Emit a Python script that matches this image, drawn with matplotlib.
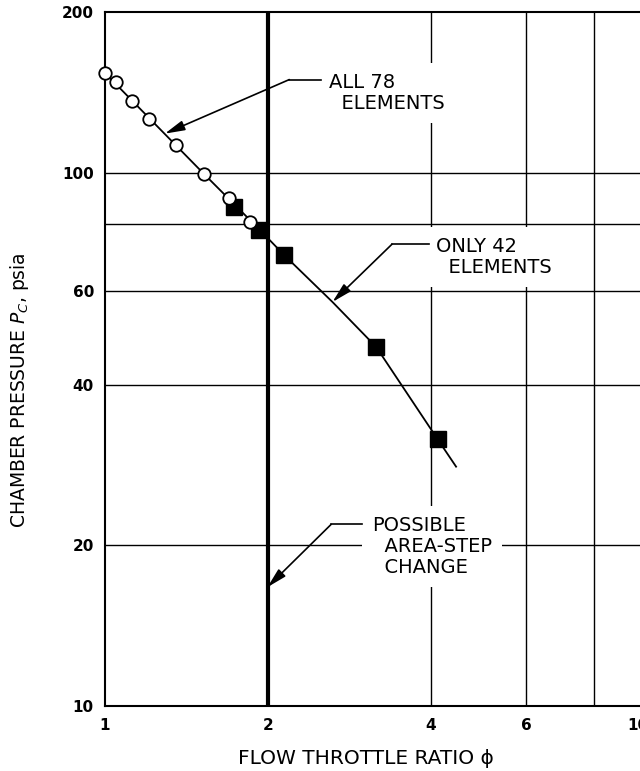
import matplotlib.pyplot as plt
import matplotlib.transforms as mtransforms
from matplotlib.patches import ArrowStyle


# open circles : all 78 elements flowing
all78_phi = [1.00, 1.046, 1.12, 1.206, 1.351, 1.521, 1.692, 1.855]
all78_pc = [153.7, 147.6, 136.0, 126.2, 112.5, 99.6, 89.6, 80.8]

# filled squares : only 42 elements flowing
only42_phi = [1.735, 1.93, 2.145, 3.172, 4.122]
only42_pc = [86.2, 78.2, 70.0, 47.1, 31.6]

# faired curve through the data
curve_phi = [1.00, 1.521, 1.93, 2.145, 2.633, 3.172, 4.122, 4.456]
curve_pc = [153.7, 99.6, 78.2, 70.0, 57.2, 47.1, 31.6, 28.1]

# axes ticks / grid
x_ticks = [1, 2, 4, 6, 10]
x_tick_labels = ['1', '2', '4', '6', '10']
y_ticks = [10, 20, 40, 60, 100, 200]
y_tick_labels = ['10', '20', '40', '60', '100', '200']
grid_x = [4, 6, 8]
grid_y = [20, 40, 60, 80, 100]
step_phi = 2


def leader(ax, text_xy, text, elbow, bend_end, tip):
    # text block with a white backing that breaks the grid lines
    ax.text(text_xy[0], text_xy[1], text, ha='left', va='center', fontsize=14,
            linespacing=1.15, zorder=5,
            bbox=dict(facecolor='white', edgecolor='none', pad=7))
    ax.plot([elbow[0], bend_end[0]], [elbow[1], bend_end[1]], color='k', lw=1.2, zorder=6)
    ax.annotate('', xy=tip, xytext=elbow, zorder=6,
                arrowprops=dict(arrowstyle=ArrowStyle('-|>', head_length=1.2, head_width=0.3),
                                mutation_scale=10, color='k', lw=1.2,
                                shrinkA=0, shrinkB=0))


def main():
    plt.rcParams['font.family'] = ['DejaVu Sans']
    plt.rcParams['mathtext.fontset'] = 'dejavusans'

    fig = plt.figure(figsize=(6.4, 7.71), dpi=100)
    ax = fig.add_axes([105 / 640, 65 / 771, 541 / 640, 694 / 771])
    ax.set_xscale('log')
    ax.set_yscale('log')
    ax.set_xlim(1, 10)
    ax.set_ylim(10, 200)

    for gx in grid_x:
        ax.axvline(gx, color='k', lw=1.0, zorder=1)
    for gy in grid_y:
        ax.axhline(gy, color='k', lw=1.0, zorder=1)
    ax.axvline(step_phi, color='k', lw=3.0, zorder=2)

    ax.plot(curve_phi, curve_pc, color='k', lw=1.3, zorder=3)
    ax.plot(only42_phi, only42_pc, 's', color='k', markersize=12, zorder=4)
    ax.plot(all78_phi, all78_pc, 'o', markerfacecolor='white', markeredgecolor='k',
            markeredgewidth=1.3, markersize=9, zorder=4, clip_on=False)

    leader(ax, (2.597, 141.1), 'ALL 78\n  ELEMENTS', (2.191, 149.4), (2.509, 149.4), (1.290, 118.3))
    leader(ax, (4.087, 69.5), 'ONLY 42\n  ELEMENTS', (3.392, 73.4), (3.968, 73.4), (2.633, 57.2))
    leader(ax, (3.117, 19.9), 'POSSIBLE\n  AREA-STEP\n  CHANGE', (2.618, 21.9), (2.987, 21.9), (1.996, 16.7))

    ax.set_xticks(x_ticks)
    ax.set_xticklabels(x_tick_labels)
    ax.set_yticks(y_ticks)
    ax.set_yticklabels(y_tick_labels)
    ax.minorticks_off()
    ax.tick_params(axis='both', length=0, labelsize=11)
    ax.tick_params(axis='x', pad=9)
    ax.tick_params(axis='y', pad=8)
    for lab in ax.get_xticklabels() + ax.get_yticklabels():
        lab.set_fontweight('bold')
    # last x label sits at the cropped right edge, nudge it in a little
    last = ax.get_xticklabels()[-1]
    last.set_transform(last.get_transform() +
                       mtransforms.ScaledTranslation(-8 / 100, 0, fig.dpi_scale_trans))
    for side in ['left', 'bottom', 'top', 'right']:
        ax.spines[side].set_linewidth(1.5)

    ax.set_xlabel('FLOW THROTTLE RATIO \u03d5', fontsize=14.5)
    ax.xaxis.set_label_coords(0.482, -0.062)
    ax.set_ylabel('CHAMBER PRESSURE $P_C$, psia', fontsize=13.5)
    ax.yaxis.set_label_coords(-0.137, 0.455)

    fig.savefig('out.png', dpi=100)


if __name__ == '__main__':
    main()
